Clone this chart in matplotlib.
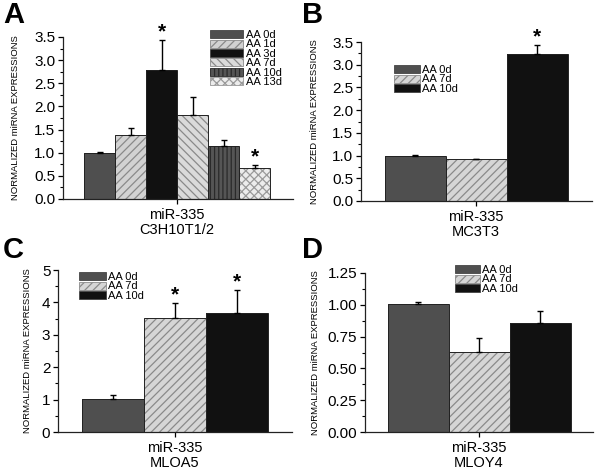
import matplotlib
matplotlib.use("Agg")
import matplotlib.pyplot as plt
from matplotlib.patches import Patch
from matplotlib.ticker import MultipleLocator

plt.rcParams['font.family'] = ['Liberation Sans', 'DejaVu Sans']
plt.rcParams['hatch.linewidth'] = 0.9

# ---------------- data ----------------
a_labels = ['AA 0d', 'AA 1d', 'AA 3d', 'AA 7d', 'AA 10d', 'AA 13d']
a_vals = [1.0, 1.38, 2.78, 1.81, 1.14, 0.66]
a_err = [0.01, 0.16, 0.65, 0.39, 0.14, 0.07]
a_sig = [False, False, True, False, False, True]

b_labels = ['AA 0d', 'AA 7d', 'AA 10d']
b_vals = [1.0, 0.92, 3.23]
b_err = [0.01, 0.005, 0.21]
b_sig = [False, False, True]

c_labels = ['AA 0d', 'AA 7d', 'AA 10d']
c_vals = [1.02, 3.51, 3.67]
c_err = [0.12, 0.47, 0.70]
c_sig = [False, True, True]

d_labels = ['AA 0d', 'AA 7d', 'AA 10d']
d_vals = [1.005, 0.632, 0.853]
d_err = [0.017, 0.105, 0.095]
d_sig = [False, False, False]

cell_lines = ['C3H10T1/2', 'MC3T3', 'MLOA5', 'MLOY4']
gene = 'miR-335'
ylabel = 'NORMALIZED miRNA EXPRESSIONS'

# style per series: (face, hatch, hatch colour)
styles = {
    'AA 0d': ('#4f4f4f', None, None),
    'AA 1d': ('#d2d2d2', '////', '#8a8a8a'),
    'AA 3d': ('#111111', None, None),
    'AA 7d': ('#dadada', '\\\\\\\\', '#8a8a8a'),
    'AA 10d': ('#555555', '||||', '#2a2a2a'),
    'AA 13d': ('#ececec', 'xxxx', '#9a9a9a'),
}
styles_3 = {
    'AA 0d': ('#4f4f4f', None, None),
    'AA 7d': ('#d6d6d6', '////', '#8a8a8a'),
    'AA 10d': ('#111111', None, None),
}

fig = plt.figure(figsize=(6.0, 4.7), dpi=100)
W, H = 600.0, 470.0

def ax_at(left, right, bottom, top):
    return fig.add_axes([left / W, 1 - bottom / H, (right - left) / W, (bottom - top) / H])

def panel(ax, labels, vals, errs, sig, sty, xlim, ylim, major, minor, fmt,
          cell, ylab_x, leg_xy, hlen, letter_xy, letter):
    n = len(labels)
    xs = [i - (n - 1) / 2.0 for i in range(n)]
    for x, lab, v in zip(xs, labels, vals):
        face, hatch, hcol = sty[lab]
        if hatch:
            ax.bar(x, v, width=1.0, color=face, hatch=hatch, edgecolor=hcol, linewidth=0, zorder=2)
        else:
            ax.bar(x, v, width=1.0, color=face, linewidth=0, zorder=2)
        ax.bar(x, v, width=1.0, fill=False, edgecolor='#222222', linewidth=0.7, zorder=3)
    ax.errorbar(xs, vals, yerr=[[0] * n, errs], fmt='none', ecolor='black',
                elinewidth=1.0, capsize=2.5, capthick=1.0, zorder=4)
    for x, v, e, s in zip(xs, vals, errs, sig):
        if s:
            ax.annotate('*', (x, v + e), xytext=(0, -1), textcoords='offset points',
                        ha='center', va='bottom', fontsize=15, fontweight='bold')
    ax.set_xlim(*xlim)
    ax.set_ylim(*ylim)
    ax.spines['top'].set_visible(False)
    ax.spines['right'].set_visible(False)
    for sp in ('left', 'bottom'):
        ax.spines[sp].set_linewidth(0.9)
        ax.spines[sp].set_color('#222222')
    ax.yaxis.set_major_locator(MultipleLocator(major))
    ax.yaxis.set_minor_locator(MultipleLocator(minor))
    ax.yaxis.set_major_formatter(plt.FormatStrFormatter(fmt))
    ax.tick_params(axis='y', which='major', direction='out', length=3.5, width=0.9,
                   labelsize=11, pad=2)
    ax.tick_params(axis='y', which='minor', direction='out', length=2, width=0.8)
    ax.set_xticks([0])
    ax.set_xticklabels([gene + '\n' + cell], fontsize=10.5, linespacing=1.1)
    ax.tick_params(axis='x', direction='out', length=3.5, width=0.9, pad=3)
    ax.set_ylabel(ylabel, fontsize=6.8)
    ax.yaxis.set_label_coords(ylab_x, 0.5)
    handles = []
    for lab in labels:
        face, hatch, hcol = sty[lab]
        handles.append(Patch(facecolor=face, hatch=hatch,
                             edgecolor=hcol if hcol else '#444444', linewidth=0.6))
    ax.legend(handles, labels, loc='upper left',
              bbox_to_anchor=(leg_xy[0] / W, 1 - leg_xy[1] / H),
              bbox_transform=fig.transFigure, frameon=False, fontsize=8,
              handlelength=hlen, handleheight=0.72, handletextpad=0.2,
              labelspacing=-0.05, borderpad=0, borderaxespad=0)
    fig.text(letter_xy[0] / W, 1 - letter_xy[1] / H, letter, fontsize=21,
             fontweight='bold', ha='left', va='top')

# Panel A
axA = ax_at(63, 293, 199, 37)
panel(axA, a_labels, a_vals, a_err, a_sig, styles,
      (-114 / 31.0, 116 / 31.0), (0, 3.5), 0.5, 0.25, '%.1f',
      cell_lines[0], (20 - 63) / 230.0, (210, 30), 3.0, (3, 1), 'A')

# Panel B
axB = ax_at(361, 592, 201, 42)
panel(axB, b_labels, b_vals, b_err, b_sig, styles_3,
      (-115 / 61.0, 116 / 61.0), (0, 3.5), 0.5, 0.25, '%.1f',
      cell_lines[1], (319 - 361) / 231.0, (394, 65), 2.35, (302, 1), 'B')

# Panel C
axC = ax_at(58, 292, 432, 270)
panel(axC, c_labels, c_vals, c_err, c_sig, styles_3,
      (-117 / 62.0, 117 / 62.0), (0, 5), 1, 0.5, '%d',
      cell_lines[2], (32 - 58) / 234.0, (79, 272), 2.45, (3, 236), 'C')

# Panel D
axD = ax_at(365, 593, 432, 273)
panel(axD, d_labels, d_vals, d_err, d_sig, styles_3,
      (-114 / 61.0, 114 / 61.0), (0, 1.25), 0.25, 0.125, '%.2f',
      cell_lines[3], (320 - 365) / 228.0, (455, 265), 2.25, (302, 236), 'D')

fig.savefig('out.png', dpi=100)
